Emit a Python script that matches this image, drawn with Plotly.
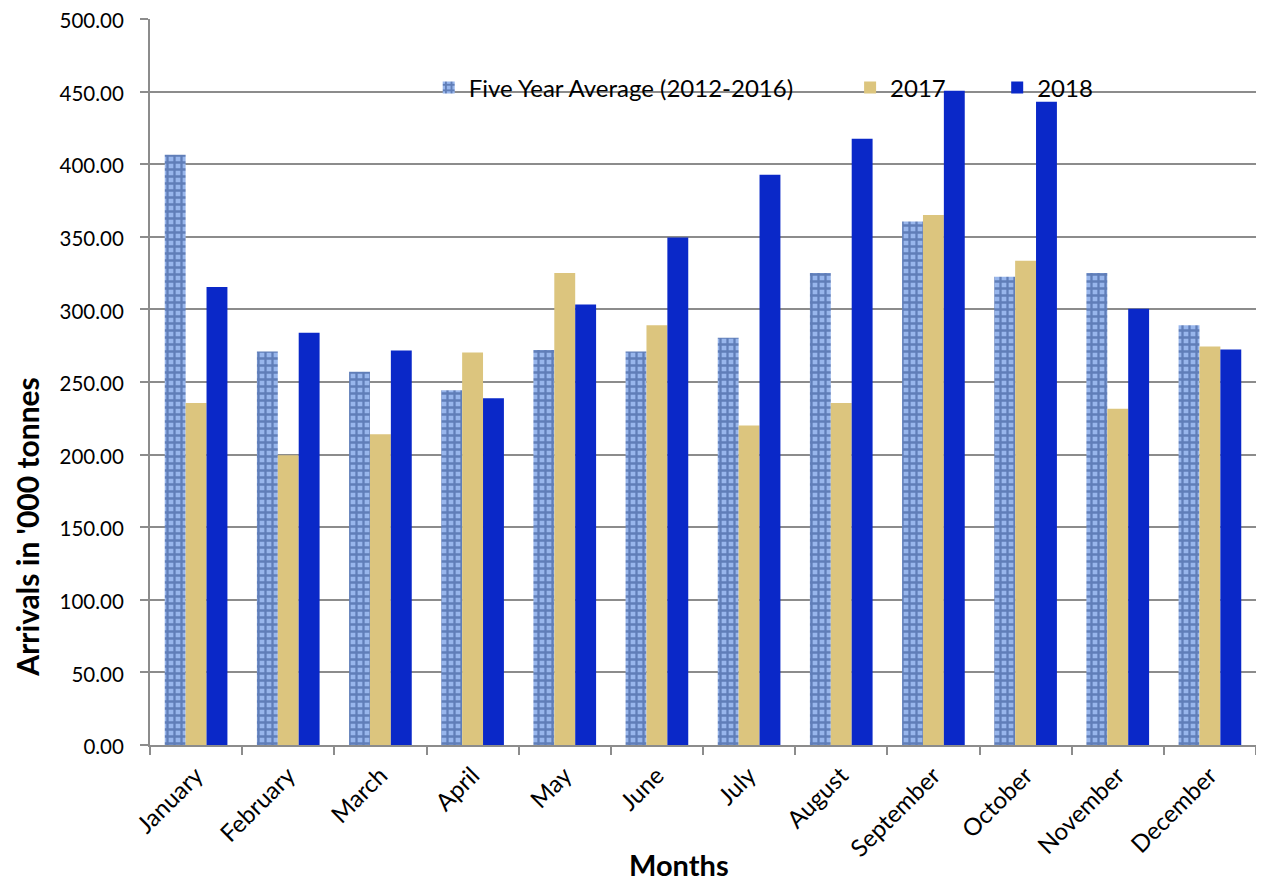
import plotly.graph_objects as go

months = ["January", "February", "March", "April", "May", "June", "July",
          "August", "September", "October", "November", "December"]
five_year_avg = [406.5, 271.0, 257.0, 244.3, 272.0, 271.0, 280.5, 325.0, 360.5, 322.5, 325.0, 289.0]
y2017 = [235.5, 199.5, 214.0, 270.3, 325.0, 289.0, 220.0, 235.5, 365.0, 333.5, 231.6, 274.5]
y2018 = [315.5, 284.0, 271.7, 238.8, 303.4, 349.5, 392.8, 417.5, 450.5, 443.0, 300.5, 272.4]

series_names = ["Five Year Average (2012-2016)", "2017", "2018"]
y_ticks = [0, 50, 100, 150, 200, 250, 300, 350, 400, 450, 500]

FONT = "Lato"

fig = go.Figure()
fig.add_trace(go.Bar(
    x=months, y=five_year_avg, name=series_names[0], legend="legend", showlegend=True,
    marker=dict(color="#86a6e0", line=dict(width=0),
                pattern=dict(shape="+", fgcolor="#284684", bgcolor="#98b6ec",
                             size=7, solidity=0.55)),
))
fig.add_trace(go.Bar(
    x=months, y=y2017, name=series_names[1], legend="legend2", showlegend=True,
    marker=dict(color="#dcc57e", line=dict(width=0)),
))
fig.add_trace(go.Bar(
    x=months, y=y2018, name=series_names[2], legend="legend3", showlegend=True,
    marker=dict(color="#0a28c8", line=dict(width=0)),
))

legend_common = dict(orientation="h", yanchor="middle", xanchor="left",
                     bgcolor="rgba(0,0,0,0)", font=dict(family=FONT, size=24, color="#000"),
                     itemwidth=30, visible=True)

fig.update_layout(
    width=1264, height=883,
    margin=dict(l=142, r=16, t=11, b=146, autoexpand=False),
    showlegend=True,
    paper_bgcolor="white", plot_bgcolor="white",
    barmode="group", bargap=0.32, bargroupgap=0,
    font=dict(family=FONT, size=21, color="#000"),
    legend=dict(x=0.252, y=0.905, **legend_common),
    legend2=dict(x=0.633, y=0.905, **legend_common),
    legend3=dict(x=0.766, y=0.905, **legend_common),
    xaxis=dict(
        showline=True, linecolor="#8c8c8c", linewidth=2,
        ticks="outside", tickson="boundaries", ticklen=8, tickcolor="#8c8c8c", tickwidth=2,
        tickangle=-45, tickfont=dict(family=FONT, size=24), ticklabelstandoff=5,
        showgrid=False, automargin=False,
    ),
    yaxis=dict(
        range=[0, 500], tickvals=y_ticks, tickformat=".2f",
        showline=True, linecolor="#8c8c8c", linewidth=2,
        ticks="outside", ticklen=8, tickcolor="#8c8c8c", tickwidth=2,
        ticklabelstandoff=12, ticklabeloverflow="allow", ticklabelshift=2,
        tickfont=dict(family=FONT, size=20.5),
        showgrid=True, gridcolor="#8c8c8c", gridwidth=2,
        zeroline=False, automargin=False,
    ),
    annotations=[
        dict(text="<b>Arrivals in '000 tonnes</b>", xref="paper", yref="paper",
             x=-0.1108, y=0.300, xanchor="center", yanchor="middle", textangle=-90,
             showarrow=False, font=dict(family=FONT, size=30, color="#000")),
        dict(text="<b>Months</b>", xref="paper", yref="paper",
             x=0.478, y=-0.165, xanchor="center", yanchor="middle",
             showarrow=False, font=dict(family=FONT, size=29, color="#000")),
    ],
)

fig.write_html("out.html")
